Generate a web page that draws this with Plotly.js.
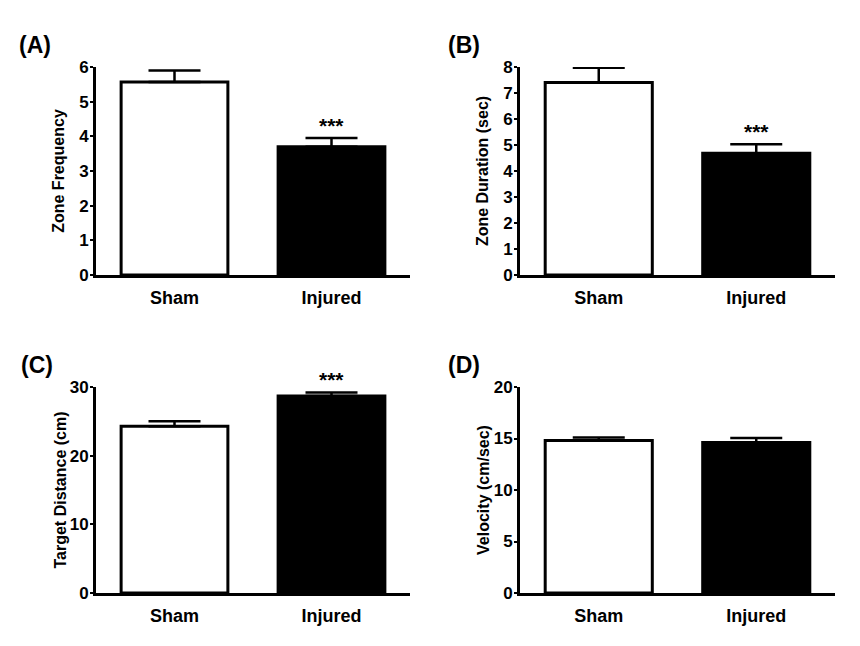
<!DOCTYPE html>
<html>
<head>
<meta charset="utf-8">
<script src="https://cdn.plot.ly/plotly-3.0.1.min.js"></script>
<style>
  html, body { margin: 0; padding: 0; background: #fff; }
  #chart { width: 860px; height: 646px; }
</style>
</head>
<body>
<div id="chart"></div>
<script>
// groups on the x axis
const groups = ['Sham', 'Injured'];

// (A) zone frequency
const zoneFreq = [5.57, 3.70];
const zoneFreqErr = [0.33, 0.25];

// (B) zone duration (sec)
const zoneDur = [7.40, 4.68];
const zoneDurErr = [0.57, 0.35];

// (C) target distance (cm)
const targetDist = [24.3, 28.7];
const targetDistErr = [0.7, 0.5];

// (D) velocity (cm/sec)
const velocity = [14.8, 14.6];
const velocityErr = [0.3, 0.45];

const barColors = ['white', 'black'];
const fontFam = '"Liberation Sans", Arial, Helvetica, sans-serif';

function barTrace(vals, errs, ax) {
    return {
        x: groups,
        y: vals,
        type: 'bar',
        width: 0.68,
        xaxis: 'x' + ax,
        yaxis: 'y' + ax,
        marker: {color: barColors, line: {color: 'black', width: 3}},
        error_y: {
            type: 'data',
            symmetric: false,
            array: errs,
            arrayminus: errs.map(() => 0),
            color: 'black',
            thickness: 2.5,
            width: 26
        },
        showlegend: false,
        hoverinfo: 'skip'
    };
}

const data = [
    barTrace(zoneFreq, zoneFreqErr, ''),
    barTrace(zoneDur, zoneDurErr, '2'),
    barTrace(targetDist, targetDistErr, '3'),
    barTrace(velocity, velocityErr, '4')
];

function xAxis(dom, anchor) {
    return {
        domain: dom,
        anchor: anchor,
        range: [-0.5, 1.5],
        showline: true,
        linecolor: 'black',
        linewidth: 3,
        ticks: '',
        ticklabelstandoff: 4,
        showgrid: false,
        zeroline: false,
        tickfont: {family: fontFam, size: 18, color: 'black', weight: 'bold'}
    };
}

function yAxis(dom, anchor, top, step, title, gap) {
    return {
        domain: dom,
        anchor: anchor,
        range: [0, top],
        dtick: step,
        showline: true,
        linecolor: 'black',
        linewidth: 3,
        ticks: 'outside',
        ticklen: 3,
        tickwidth: 2,
        tickcolor: 'black',
        ticklabelstandoff: -2,
        showgrid: false,
        zeroline: false,
        tickfont: {family: fontFam, size: 17, color: 'black', weight: 'bold'},
        title: {text: title, standoff: gap,
                font: {family: fontFam, size: 16, color: 'black', weight: 'bold'}}
    };
}

const topRow = [1 - 275 / 646, 1 - 67 / 646];
const botRow = [1 - 593 / 646, 1 - 387 / 646];
const leftCol = [96 / 860, 410 / 860];
const rightCol = [520 / 860, 835 / 860];

// significance stars sit on the injured error bar
const starFont = {family: fontFam, size: 21, color: 'black', weight: 'bold'};
function stars(vals, errs, ax) {
    return {
        x: groups[1], y: vals[1] + errs[1],
        xref: 'x' + ax, yref: 'y' + ax,
        text: '***', showarrow: false,
        yanchor: 'bottom', yshift: -1,
        font: starFont
    };
}

function panelLabel(txt, x, y) {
    return {
        x: x, y: y, xref: 'paper', yref: 'paper',
        xanchor: 'left', yanchor: 'middle',
        text: txt, showarrow: false,
        font: {family: fontFam, size: 23, color: 'black', weight: 'bold'}
    };
}

const layout = {
    width: 860,
    height: 646,
    margin: {l: 0, r: 0, t: 0, b: 0},
    paper_bgcolor: 'white',
    plot_bgcolor: 'white',
    bargap: 0,
    xaxis: xAxis(leftCol, 'y'),
    yaxis: yAxis(topRow, 'x', 6, 1, 'Zone Frequency', 11),
    xaxis2: xAxis(rightCol, 'y2'),
    yaxis2: yAxis(topRow, 'x2', 8, 1, 'Zone Duration (sec)', 11),
    xaxis3: xAxis(leftCol, 'y3'),
    yaxis3: yAxis(botRow, 'x3', 30, 10, 'Target Distance (cm)', 0),
    xaxis4: xAxis(rightCol, 'y4'),
    yaxis4: yAxis(botRow, 'x4', 20, 5, 'Velocity (cm/sec)', 1),
    annotations: [
        stars(zoneFreq, zoneFreqErr, ''),
        stars(zoneDur, zoneDurErr, '2'),
        stars(targetDist, targetDistErr, '3'),
        panelLabel('(A)', 17 / 860, 1 - 45 / 646),
        panelLabel('(B)', 446 / 860, 1 - 45 / 646),
        panelLabel('(C)', 19 / 860, 1 - 365 / 646),
        panelLabel('(D)', 446 / 860, 1 - 365 / 646)
    ]
};

Plotly.newPlot('chart', data, layout, {displayModeBar: false, staticPlot: true});
</script>
</body>
</html>
